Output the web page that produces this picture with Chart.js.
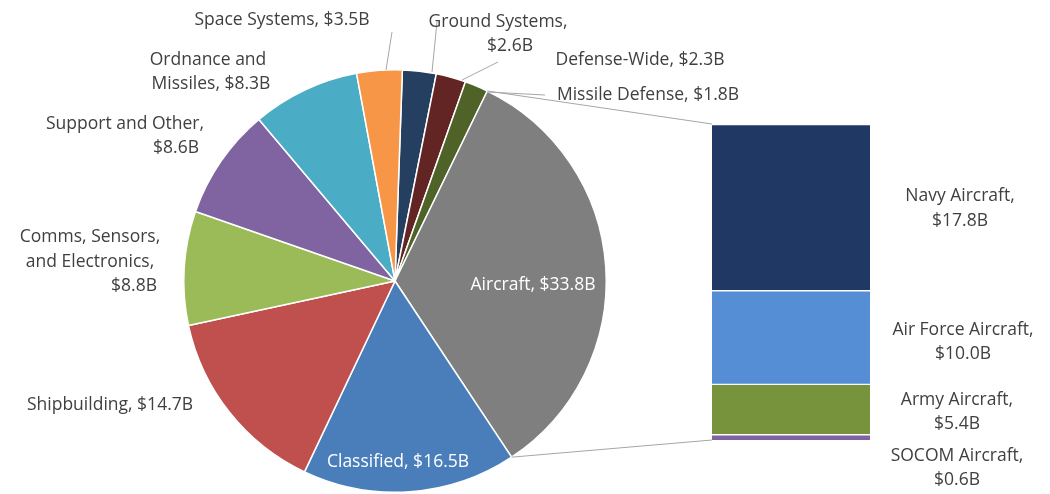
<!DOCTYPE html>
<html>
<head>
<meta charset="utf-8">
<script src="https://cdn.jsdelivr.net/npm/chart.js@4"></script>
<style>
  body { margin: 0; background: #fff; }
  #wrap { position: relative; width: 1050px; height: 494px; }
  #pie { position: absolute; left: 0; top: 0; }
  #bar { position: absolute; left: 712px; top: 124px; }
</style>
</head>
<body>
<div id="wrap">
  <canvas id="pie" width="1050" height="494"></canvas>
  <canvas id="bar" width="158" height="316"></canvas>
</div>
<script>
// Datos del gráfico circular (sentido horario desde arriba)
const pieLabels = ["Ground Systems", "Defense-Wide", "Missile Defense", "Aircraft", "Classified",
  "Shipbuilding", "Comms, Sensors, and Electronics", "Support and Other", "Ordnance and Missiles", "Space Systems"];
const pieValues = [2.6, 2.3, 1.8, 33.8, 16.5, 14.7, 8.8, 8.6, 8.3, 3.5];
const pieColors = ["#243f60", "#632523", "#4f6228", "#7f7f7f", "#4a7ebb",
  "#c0504d", "#9bbb59", "#8064a2", "#4bacc6", "#f79646"];

// Desglose de Aircraft (de abajo hacia arriba)
const barLabels = ["SOCOM Aircraft", "Army Aircraft", "Air Force Aircraft", "Navy Aircraft"];
const barValues = [0.6, 5.4, 10.0, 17.8];
const barColors = ["#8064a2", "#77933c", "#558ed5", "#1f3864"];

const FONT = "17.5px 'Open Sans', 'Liberation Sans', sans-serif";
const TXT = "#404040";

// Etiquetas: [texto, x, y, color]
const textLabels = [
  ["Space Systems, $3.5B", 282, 20], ["Ground Systems,", 498, 22], ["$2.6B", 510, 46],
  ["Defense-Wide, $2.3B", 640, 60], ["Missile Defense, $1.8B", 648, 95],
  ["Ordnance and", 208, 60], ["Missiles, $8.3B", 211, 84],
  ["Support and Other,", 125, 124], ["$8.6B", 176, 148],
  ["Comms, Sensors,", 90, 237], ["and Electronics,", 90, 262], ["$8.8B", 134, 286],
  ["Shipbuilding, $14.7B", 110, 405],
  ["Classified, $16.5B", 398, 462, "#fff"], ["Aircraft, $33.8B", 533, 285, "#fff"],
  ["Navy Aircraft,", 960, 196], ["$17.8B", 960, 221],
  ["Air Force Aircraft,", 963, 330], ["$10.0B", 963, 354],
  ["Army Aircraft,", 957, 400], ["$5.4B", 957, 424],
  ["SOCOM Aircraft,", 957, 456], ["$0.6B", 957, 480]
];
const leaderLines = [[392, 32, 386, 70], [437, 22, 432, 72], [498, 62, 462, 80], [545, 95, 488, 92]];
const barBox = { x: 712, top: 124, bottom: 440 };

const labelPlugin = {
  id: "labels",
  afterDraw(chart) {
    const ctx = chart.ctx;
    ctx.save();
    // Líneas de conexión hacia la barra
    const arc = chart.getDatasetMeta(0).data[3];
    ctx.strokeStyle = "#a6a6a6";
    ctx.lineWidth = 1;
    const p1 = [arc.x + arc.outerRadius * Math.cos(arc.startAngle), arc.y + arc.outerRadius * Math.sin(arc.startAngle)];
    const p2 = [arc.x + arc.outerRadius * Math.cos(arc.endAngle), arc.y + arc.outerRadius * Math.sin(arc.endAngle)];
    ctx.beginPath();
    ctx.moveTo(p1[0], p1[1]); ctx.lineTo(barBox.x, barBox.top);
    ctx.moveTo(p2[0], p2[1]); ctx.lineTo(barBox.x, barBox.bottom);
    leaderLines.forEach(l => { ctx.moveTo(l[0], l[1]); ctx.lineTo(l[2], l[3]); });
    ctx.stroke();
    ctx.font = FONT;
    ctx.textAlign = "center";
    ctx.textBaseline = "middle";
    textLabels.forEach(t => {
      ctx.fillStyle = t[3] || TXT;
      ctx.fillText(t[0], t[1], t[2]);
    });
    ctx.restore();
  }
};

new Chart(document.getElementById("pie"), {
  type: "pie",
  data: {
    labels: pieLabels,
    datasets: [{ data: pieValues, backgroundColor: pieColors, borderColor: "#fff", borderWidth: 1.5 }]
  },
  options: {
    responsive: false,
    animation: false,
    rotation: 2,
    layout: { padding: { left: 183, right: 443, top: 69, bottom: 1 } },
    plugins: { legend: { display: false }, tooltip: { enabled: false } }
  },
  plugins: [labelPlugin]
});

new Chart(document.getElementById("bar"), {
  type: "bar",
  data: {
    labels: ["Aircraft"],
    datasets: barLabels.map((l, i) => ({
      label: l, data: [barValues[i]], backgroundColor: barColors[i],
      borderColor: "#fff", borderWidth: { top: 1.5 }, borderSkipped: false,
      categoryPercentage: 1, barPercentage: 1
    }))
  },
  options: {
    responsive: false,
    animation: false,
    layout: { padding: 0 },
    scales: {
      x: { stacked: true, display: false },
      y: { stacked: true, display: false, min: 0, max: 33.8 }
    },
    plugins: { legend: { display: false }, tooltip: { enabled: false } }
  }
});
</script>
</body>
</html>
